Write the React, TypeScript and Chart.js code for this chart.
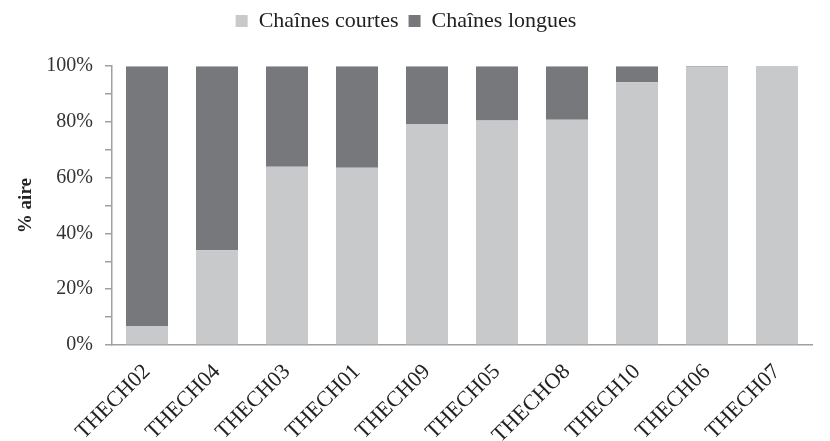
import React, { useEffect, useRef } from "react";
import { Chart, registerables } from "chart.js";

Chart.register(...registerables);

const categories = ["THECH02", "THECH04", "THECH03", "THECH01", "THECH09", "THECH05", "THECHO8", "THECH10", "THECH06", "THECH07"];
const shortChains = [6.8, 34, 63.9, 63.6, 79.3, 80.5, 80.8, 94.2, 99.6, 99.8];
const longChains = [93.2, 66, 36.1, 36.4, 20.7, 19.5, 19.2, 5.8, 0.4, 0.2];
const seriesNames = ["Chaînes courtes", "Chaînes longues"];
const yTitle = "% aire";

const FONT = "'Liberation Serif', 'DejaVu Serif', serif";

export default function App() {
  const ref = useRef<HTMLCanvasElement | null>(null);
  useEffect(() => {
    document.body.style.margin = "0";
    const ctx = ref.current!;
    const chart = new Chart(ctx, {
      type: "bar",
      data: {
        labels: categories,
        datasets: [
          { label: seriesNames[0], data: shortChains, backgroundColor: "#c8c9cb", barPercentage: 0.6, categoryPercentage: 1 },
          { label: seriesNames[1], data: longChains, backgroundColor: "#77787b", barPercentage: 0.6, categoryPercentage: 1 },
        ],
      },
      options: {
        animation: false,
        responsive: false,
        maintainAspectRatio: false,
        layout: { padding: { top: 0, right: 18, left: 0, bottom: 0 } },
        plugins: {
          tooltip: { enabled: false },
          legend: {
            position: "top",
            weight: 3000,
            labels: {
              boxWidth: 12,
              boxHeight: 12,
              padding: 10,
              color: "#222",
              font: { family: FONT, size: 22 },
            },
          },
          title: {
            display: true,
            text: "",
            position: "top",
            weight: 2000,
            font: { size: 1 },
            padding: { top: 0, bottom: 23 },
          },
        },
        scales: {
          x: {
            stacked: true,
            grid: { display: false, drawTicks: false },
            border: { display: true, color: "#a0a0a0", width: 1.5 },
            ticks: {
              autoSkip: false,
              maxRotation: 45,
              minRotation: 45,
              color: "#222",
              padding: 14,
              font: { family: FONT, size: 22 },
            },
            afterFit: (s: any) => { s.height = 96; },
          },
          y: {
            stacked: true,
            min: 0,
            max: 100,
            grid: { display: true, drawOnChartArea: false, drawTicks: true, tickLength: 7, color: "#a0a0a0", lineWidth: 1.5 },
            border: { display: true, color: "#a0a0a0", width: 1.5 },
            ticks: {
              stepSize: 10,
              color: "#333",
              padding: 12,
              font: { family: FONT, size: 20 },
              callback: (v: any) => (Number(v) % 20 === 0 ? v + "%" : ""),
            },
            title: {
              display: true,
              text: yTitle,
              color: "#222",
              font: { family: FONT, size: 19, weight: "bold" },
              padding: { top: 15, bottom: 0 },
            },
            afterFit: (s: any) => { s.width = 112; },
          },
        },
      },
    });
    return () => chart.destroy();
  }, []);
  return (
    <div style={{ position: "fixed", left: 0, top: 0, width: 830, height: 441, background: "#fff" }}>
      <canvas ref={ref} width={830} height={441} />
    </div>
  );
}
